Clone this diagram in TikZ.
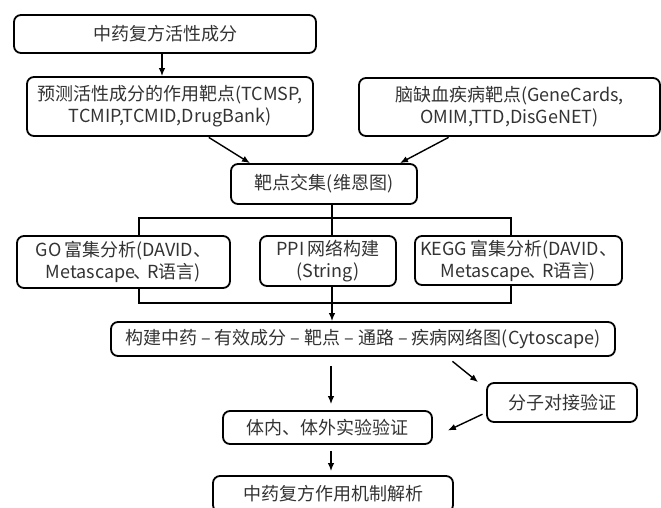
\documentclass[tikz,border=0pt]{standalone}
\usepackage{fontspec}
\setmainfont{Noto Sans CJK SC}
\usetikzlibrary{arrows.meta}

\begin{document}
\begin{tikzpicture}[x=1pt,y=-1pt,>={Latex[length=8pt,width=6.5pt]}]
        \tikzstyle{stage}=[draw=black,line width=1.8pt,rounded corners=7pt,align=center,inner sep=0pt,text=black!80,font=\fontsize{18}{22}\selectfont]
        \tikzstyle{edge}=[draw,line width=1.4pt,->]
        \tikzstyle{link}=[draw,line width=1.4pt]
        \useasboundingbox (0,0) rectangle (661,507);

         \node [stage,minimum width=302pt,minimum height=38pt] (herb) at (165,34) {中药复方活性成分};
         \node [stage,minimum width=286pt,minimum height=59pt] (pred) at (170,106.5) {预测活性成分的作用靶点(TCMSP,\\TCMIP,TCMID,DrugBank)};
         \node [stage,minimum width=301pt,minimum height=58pt] (dis) at (509.5,107) {脑缺血疾病靶点(GeneCards,\\OMIM,TTD,DisGeNET)};
         \node [stage,minimum width=186pt,minimum height=40pt] (venn) at (324,184) {靶点交集(维恩图)};

         \node [stage,minimum width=213pt,minimum height=52pt] (go) at (123.5,262) {GO\,富集分析(DAVID、\\Metascape\kern-2pt、\kern-4ptR语言)};
         \node [stage,minimum width=136pt,minimum height=50pt] (ppi) at (328,261) {PPI\,网络构建\\(String)};
         \node [stage,minimum width=207pt,minimum height=49pt] (kegg) at (518.5,260.5) {KEGG\,富集分析(DAVID、\\Metascape\kern-2pt、\kern-4ptR语言)};

         \node [stage,minimum width=504pt,minimum height=34pt] (net) at (363,339) {构建中药 – 有效成分 – 靶点 – 通路 – 疾病网络图(Cytoscape)};
         \node [stage,minimum width=150pt,minimum height=39pt] (dock) at (562,402.5) {分子对接验证};
         \node [stage,minimum width=209pt,minimum height=33pt] (exp) at (327.5,427.5) {体内、体外实验验证};
         \node [stage,minimum width=240pt,minimum height=36pt] (mech) at (333,494) {中药复方作用机制解析};

         \path[edge] ([xshift=-3pt]herb.south) -- ([xshift=-3pt]herb.south |- pred.north);

         \path[edge,shorten <=1pt] ([xshift=38pt]pred.south) -- ([xshift=-74pt]venn.north);
         \path[edge,shorten <=1pt] ([xshift=-60pt]dis.south) -- ([xshift=76pt]venn.north);

         \path[link] ([xshift=8pt]venn.south) -- ([xshift=4pt]ppi.north);
         \path[link] ([xshift=15.5pt]go.north) -- ++(0,-17) -| ([xshift=-7.5pt]kegg.north);
         \path[link] ([xshift=15.5pt]go.south) -- ++(0,14) -| ([xshift=-7.5pt]kegg.south);
         \path[edge] ([xshift=4pt]ppi.south) -- ([xshift=-31pt]net.north);

         \path[edge,shorten <=9pt,shorten >=6pt] ([xshift=-32pt]net.south) -- ([xshift=3.5pt]exp.north);
         \path[edge,shorten <=7pt] ([xshift=84pt]net.south) -- ([xshift=-8pt]dock.north west);
         \path[edge,shorten <=4pt] ([yshift=-10pt]dock.west) -- ([xshift=15pt,yshift=-3pt]exp.east);
         \path[edge,shorten <=6pt,shorten >=4pt] ([xshift=3.5pt]exp.south) -- ([xshift=-2pt]mech.north);
      \end{tikzpicture}
\end{document}
